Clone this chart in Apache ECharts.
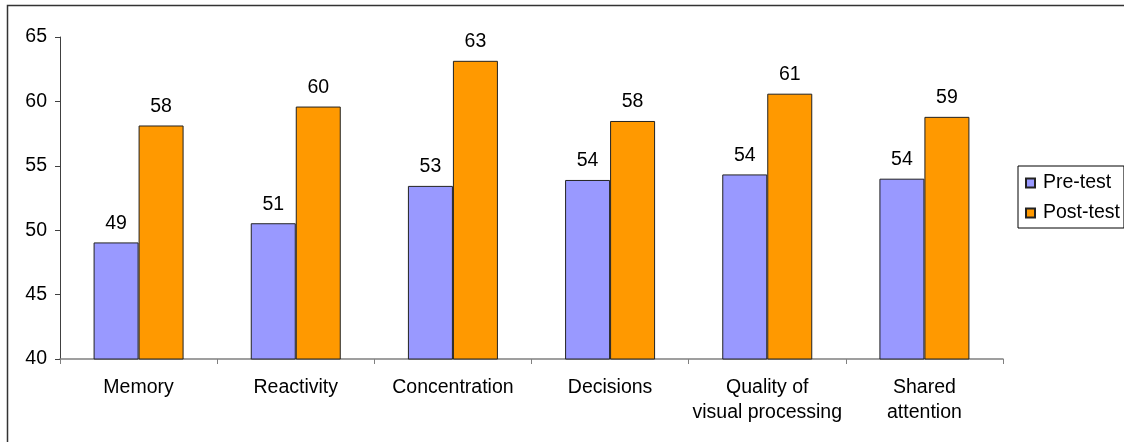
<!DOCTYPE html>
<html>
<head>
<meta charset="utf-8">
<script src="https://cdn.jsdelivr.net/npm/echarts@6/dist/echarts.min.js"></script>
<style>
html,body{margin:0;padding:0;background:#fff;}
#chart{width:1124px;height:442px;}
</style>
</head>
<body>
<div id="chart"></div>
<script>
const categories = ['Memory', 'Reactivity', 'Concentration', 'Decisions', 'Quality of\nvisual processing', 'Shared\nattention'];
const seriesNames = ['Pre-test', 'Post-test'];
const preTest = [49.05, 50.54, 53.44, 53.9, 54.33, 54.0];
const postTest = [58.13, 59.6, 63.15, 58.48, 60.6, 58.8];
const yTicks = {min: 40, max: 65, interval: 5};

const font = '"Liberation Sans", Arial, sans-serif';
const fs = 19.5;
const chart = echarts.init(document.getElementById('chart'), null, {renderer: 'canvas'});
const labelCfg = {
  show: true, position: 'top', distance: 9,
  color: '#000', fontFamily: font, fontSize: fs,
  formatter: p => String(Math.round(p.value))
};
chart.setOption({
  animation: false,
  backgroundColor: '#fff',
  graphic: [{
    type: 'rect', silent: true,
    shape: {x: 7.5, y: 5.5, width: 1130, height: 460},
    style: {fill: null, stroke: '#333', lineWidth: 1.5}
  }],
  grid: {left: 60, right: 121, top: 37, bottom: 83, containLabel: false, outerBoundsMode: 'none'},
  legend: {
    orient: 'vertical', left: 1018, top: 166,
    data: seriesNames,
    icon: 'rect', itemWidth: 9, itemHeight: 9, itemGap: 10,
    borderColor: '#000', borderWidth: 1, borderRadius: 0,
    padding: [7, 4, 5, 7],
    textStyle: {fontFamily: font, fontSize: fs, color: '#000', padding: [0, 0, 0, 3]}
  },
  xAxis: {
    type: 'category', data: categories,
    axisLine: {lineStyle: {color: '#808080', width: 1.5}},
    axisTick: {show: true, length: 5, lineStyle: {color: '#808080'}},
    axisLabel: {fontFamily: font, fontSize: fs, color: '#000', margin: 16, lineHeight: 25, interval: 0}
  },
  yAxis: {
    type: 'value', min: yTicks.min, max: yTicks.max, interval: yTicks.interval,
    axisLine: {show: true, lineStyle: {color: '#404040', width: 1}},
    axisTick: {show: true, length: 5, lineStyle: {color: '#404040'}},
    splitLine: {show: false},
    axisLabel: {fontFamily: font, fontSize: fs, color: '#000', margin: 13}
  },
  series: [
    {name: seriesNames[0], type: 'bar', data: preTest, barWidth: 45, barGap: '0%',
     itemStyle: {color: '#9999FF', borderColor: '#222', borderWidth: 1}, label: labelCfg},
    {name: seriesNames[1], type: 'bar', data: postTest, barWidth: 45, barGap: '0%',
     itemStyle: {color: '#FF9900', borderColor: '#222', borderWidth: 1}, label: labelCfg}
  ]
});
</script>
</body>
</html>
